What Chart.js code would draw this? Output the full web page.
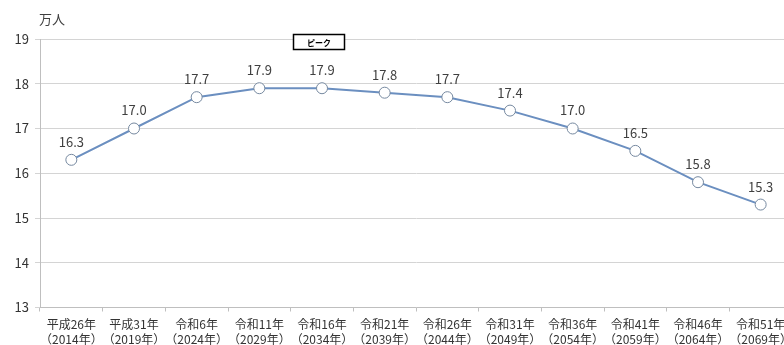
<!DOCTYPE html>
<html><head><meta charset="utf-8">
<script src="https://cdn.jsdelivr.net/npm/chart.js@4"></script>
<style>
html,body{margin:0;padding:0;background:#fff;overflow:hidden;width:784px;height:345px;}
#wrap{width:800px;height:345px;}
</style></head>
<body>
<div id="wrap"><canvas id="c" width="800" height="345"></canvas></div>
<script>
const eraLabels = ["平成26年","平成31年","令和6年","令和11年","令和16年","令和21年","令和26年","令和31年","令和36年","令和41年","令和46年","令和51年"];
const yearLabels = ["（2014年）","（2019年）","（2024年）","（2029年）","（2034年）","（2039年）","（2044年）","（2049年）","（2054年）","（2059年）","（2064年）","（2069年）"];
const population = [16.3, 17.0, 17.7, 17.9, 17.9, 17.8, 17.7, 17.4, 17.0, 16.5, 15.8, 15.3];
const yTicks = [13, 14, 15, 16, 17, 18, 19];
const unitLabel = "万人";
const peakLabel = "ピーク";
const peakIndex = 4;

const FONT = '"Noto Sans CJK JP", "Noto Sans", sans-serif';

const extras = {
  id: 'extras',
  afterDatasetsDraw(chart) {
    const ctx = chart.ctx;
    const meta = chart.getDatasetMeta(0);
    ctx.save();
    ctx.font = '13px ' + FONT;
    ctx.fillStyle = '#404040';
    ctx.textAlign = 'center';
    ctx.textBaseline = 'middle';
    meta.data.forEach((pt, i) => {
      ctx.fillText(population[i].toFixed(1), pt.x, pt.y - 18);
    });
    // unit label
    ctx.textAlign = 'left';
    ctx.font = '13px ' + FONT;
    ctx.fillText(unitLabel, chart.chartArea.left - 1, chart.chartArea.top - 20);
    // peak box
    const x = chart.scales.x.getPixelForValue(peakIndex) - 3;
    const y = chart.chartArea.top + 3;
    const w = 51, h = 15;
    ctx.fillStyle = '#fff';
    ctx.fillRect(x - w/2, y - h/2, w, h);
    ctx.strokeStyle = '#000';
    ctx.lineWidth = 1.5;
    ctx.strokeRect(x - w/2, y - h/2, w, h);
    ctx.fillStyle = '#000';
    ctx.textAlign = 'center';
    ctx.font = 'bold 8px ' + FONT;
    ctx.fillText(peakLabel, x, y + 0.5);
    ctx.restore();
  }
};

new Chart(document.getElementById('c'), {
  type: 'line',
  data: {
    labels: eraLabels.map((e, i) => [e, yearLabels[i]]),
    datasets: [{
      data: population,
      borderColor: '#6b8fc0',
      borderWidth: 2,
      pointRadius: 5.5,
      pointHoverRadius: 5.5,
      pointBackgroundColor: '#ffffff',
      pointBorderColor: '#75889f',
      pointBorderWidth: 1,
      tension: 0
    }]
  },
  options: {
    responsive: false,
    animation: false,
    devicePixelRatio: 1,
    layout: { padding: { top: 39, right: 8, left: 0, bottom: 0 } },
    plugins: { legend: { display: false }, tooltip: { enabled: false } },
    scales: {
      x: {
        offset: true,
        grid: { offset: true, drawOnChartArea: false, drawTicks: true, tickLength: 4, color: '#bfbfbf' },
        border: { color: '#bfbfbf', width: 1 },
        ticks: { color: '#333', font: { family: FONT, size: 12, lineHeight: 1.25 }, maxRotation: 0, autoSkip: false, padding: 5 },
        afterFit(s) { s.height = 37.5; }
      },
      y: {
        min: 13, max: 19,
        afterBuildTicks(s) { s.ticks = yTicks.map(v => ({ value: v })); },
        grid: { color: '#d4d4d4', tickLength: 5, lineWidth: 1 },
        border: { color: '#bfbfbf', width: 1 },
        ticks: { color: '#333', font: { family: FONT, size: 13 }, padding: 6 },
        afterFit(s) { s.width = 40; }
      }
    }
  },
  plugins: [extras]
});
</script>
</body></html>
